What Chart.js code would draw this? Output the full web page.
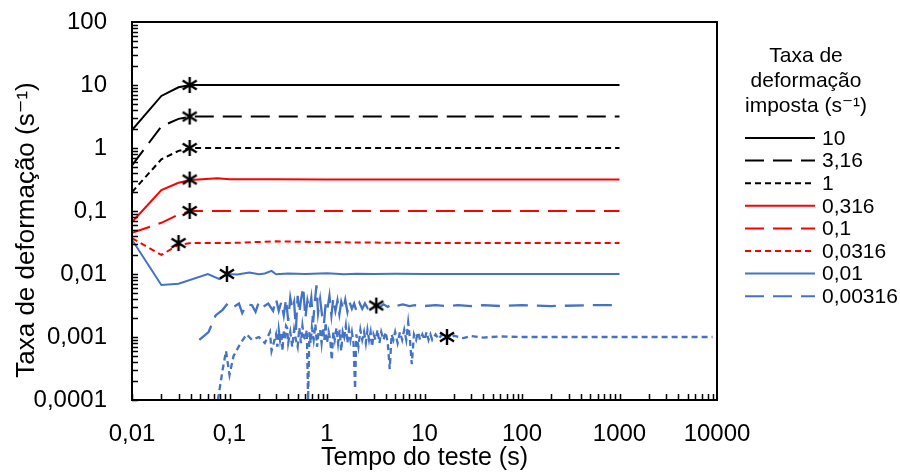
<!DOCTYPE html>
<html>
<head>
<meta charset="utf-8">
<script src="https://cdn.jsdelivr.net/npm/chart.js@4.4.1/dist/chart.umd.min.js"></script>
<style>
  html, body { margin: 0; padding: 0; background: #fff; }
  #wrap { width: 900px; height: 473px; }
</style>
</head>
<body>
<div id="wrap"><canvas id="chart" width="900" height="473"></canvas></div>
<script>
// axis ticks
const xTicks = [0.01, 0.1, 1, 10, 100, 1000, 10000];
const xTickLabels = ["0,01", "0,1", "1", "10", "100", "1000", "10000"];
const yTicks = [0.0001, 0.001, 0.01, 0.1, 1, 10, 100];
const yTickLabels = ["0,0001", "0,001", "0,01", "0,1", "1", "10", "100"];

// smooth curves (10 ... 0,0316) share one time base
const tSmooth = [0.01, 0.02, 0.03, 0.04, 0.075, 0.1, 0.3, 1, 10, 100, 1000];
const r10     = [1.93, 6.7, 9.2, 10, 10, 10, 10, 10, 10, 10, 10];
const r316    = [0.53, 2.2, 2.9, 3.16, 3.16, 3.16, 3.16, 3.16, 3.16, 3.16, 3.16];
const r1      = [0.2, 0.66, 0.9, 1.0, 1.0, 1.0, 1.0, 1.0, 1.0, 1.0, 1.0];
const r0316   = [0.067, 0.215, 0.28, 0.31, 0.33, 0.32, 0.318, 0.316, 0.316, 0.316, 0.316];
const r01     = [0.045, 0.065, 0.088, 0.1, 0.1, 0.1, 0.1, 0.1, 0.1, 0.1, 0.1];
const r00316  = [0.037, 0.0201, 0.029, 0.031, 0.031, 0.031, 0.033, 0.032, 0.031, 0.031, 0.031];

// 0,01  [time, rate]
const b001 = [
  [0.01, 0.035], [0.02, 0.0067], [0.03, 0.0070], [0.06, 0.0100], [0.079, 0.0083], [0.094, 0.0100],
  [0.12, 0.0098], [0.16, 0.0106], [0.2, 0.0099], [0.23, 0.0102], [0.27, 0.0112], [0.3, 0.0099],
  [0.4, 0.0102], [0.6, 0.0100], [1, 0.0103], [1.5, 0.0099], [2, 0.0101], [3, 0.0100], [5, 0.0101],
  [10, 0.0100], [30, 0.0100], [100, 0.0100], [1000, 0.0100]
];

// 0,00316  [time, rate]
const b000316 = [
  [0.049, 0.0009], [0.061, 0.0012], [0.072, 0.0022], [0.085, 0.0027], [0.097, 0.0035], [0.11, 0.0030],
  [0.125, 0.0034], [0.135, 0.0024], [0.15, 0.0033], [0.17, 0.0032], [0.185, 0.0025], [0.2, 0.0036],
  [0.22, 0.0030], [0.25, 0.0034], [0.28, 0.0026], [0.30, 0.0040], [0.32, 0.0026], [0.34, 0.0036],
  [0.36, 0.0022], [0.38, 0.0040], [0.40, 0.0018], [0.42, 0.0042], [0.44, 0.0028], [0.46, 0.0036],
  [0.48, 0.0013], [0.50, 0.0045], [0.52, 0.0024], [0.54, 0.0038], [0.57, 0.0062], [0.60, 0.0020],
  [0.63, 0.0038], [0.66, 0.0027], [0.69, 0.0042], [0.72, 0.0017], [0.75, 0.0036], [0.78, 0.0066],
  [0.81, 0.0024], [0.85, 0.0040], [0.89, 0.0022], [0.93, 0.0016], [0.97, 0.0035], [1.01, 0.0028],
  [1.06, 0.0045], [1.11, 0.0022], [1.16, 0.0041], [1.22, 0.0026], [1.28, 0.0038], [1.34, 0.0023],
  [1.4, 0.0036], [1.47, 0.0027], [1.54, 0.0039], [1.62, 0.0025], [1.7, 0.0036], [1.8, 0.0028],
  [1.9, 0.0034], [2.0, 0.0026], [2.15, 0.0035], [2.3, 0.0028], [2.45, 0.0034], [2.6, 0.0029],
  [2.8, 0.0034], [3.0, 0.0030], [3.2, 0.0032], [3.5, 0.0030], [3.8, 0.0033], [4.2, 0.0030],
  [4.6, 0.0033], [5, 0.0031], [6, 0.0033], [7, 0.0031], [8, 0.0032], [10, 0.0031], [13, 0.0032],
  [17, 0.0031], [22, 0.0032], [30, 0.0031], [40, 0.0032], [60, 0.0031], [100, 0.0032], [200, 0.0031],
  [500, 0.0032], [1000, 0.0032]
];

// 0,001  [time, rate]
const b0001 = [
  [0.076, 0.0001], [0.085, 0.0003], [0.092, 0.0006], [0.1, 0.00025], [0.11, 0.0005], [0.13, 0.0008],
  [0.15, 0.0011], [0.17, 0.0009], [0.2, 0.0010], [0.23, 0.0008], [0.26, 0.0012], [0.27, 0.0006],
  [0.30, 0.0011], [0.31, 0.0007], [0.32, 0.0013], [0.33, 0.0009], [0.34, 0.0012], [0.35, 0.0006],
  [0.36, 0.0013], [0.37, 0.0009], [0.38, 0.0015], [0.39, 0.0014], [0.40, 0.0008], [0.42, 0.0012],
  [0.44, 0.0007], [0.46, 0.0013], [0.48, 0.0009], [0.50, 0.0007], [0.52, 0.0014], [0.54, 0.0008],
  [0.56, 0.0015], [0.58, 0.0010], [0.60, 0.0009], [0.62, 0.0013], [0.64, 0.0001], [0.66, 0.0012],
  [0.68, 0.0008], [0.70, 0.0014], [0.73, 0.0009], [0.76, 0.0016], [0.79, 0.0007], [0.82, 0.0012],
  [0.85, 0.0013], [0.88, 0.0008], [0.91, 0.0014], [0.94, 0.0009], [0.97, 0.0017], [1.0, 0.0008],
  [1.04, 0.0012], [1.08, 0.0009], [1.12, 0.00043], [1.16, 0.0012], [1.2, 0.0009], [1.25, 0.0014],
  [1.3, 0.0008], [1.35, 0.0013], [1.4, 0.0006], [1.45, 0.0012], [1.5, 0.0010], [1.56, 0.0015],
  [1.62, 0.0008], [1.68, 0.0013], [1.74, 0.0009], [1.8, 0.0012], [1.87, 0.0008], [1.94, 0.00015],
  [2.0, 0.0011], [2.1, 0.0007], [2.2, 0.0013], [2.3, 0.0009], [2.4, 0.0012], [2.5, 0.0008],
  [2.6, 0.0013], [2.7, 0.0009], [2.8, 0.0012], [2.9, 0.0007], [3.0, 0.0011], [3.15, 0.0009],
  [3.3, 0.0013], [3.45, 0.0008], [3.6, 0.0012], [3.8, 0.0009], [4.0, 0.0012], [4.2, 0.0008],
  [4.4, 0.00031], [4.6, 0.0011], [4.8, 0.0009], [5.0, 0.0012], [5.3, 0.0008], [5.6, 0.0012],
  [5.9, 0.0009], [6.2, 0.0013], [6.5, 0.0009], [6.8, 0.0017], [7.1, 0.0009], [7.4, 0.00037],
  [7.8, 0.0011], [8.2, 0.0009], [8.6, 0.0012], [9.0, 0.0009], [9.5, 0.0011], [10, 0.0009],
  [10.5, 0.0012], [11, 0.0009], [11.5, 0.0011], [12, 0.0009], [13, 0.0011], [14, 0.00092],
  [15, 0.0011], [16, 0.00095], [17, 0.0010], [18, 0.00105], [19, 0.00095], [20, 0.00105],
  [25, 0.00096], [30, 0.00104], [40, 0.00098], [60, 0.00102], [100, 0.0010], [1000, 0.0010], [9000, 0.0010]
];

// asterisk marks
const markX = [0.039, 0.039, 0.039, 0.039, 0.039, 0.030, 0.094, 3.2, 17];
const markY = [10, 3.16, 1, 0.316, 0.1, 0.031, 0.01, 0.00316, 0.001];

const yTitle = "Taxa de deformação (s⁻¹)";
const legendTitle = ["Taxa de", "deformação", "imposta (s⁻¹)"];
const legendLabels = ["10", "3,16", "1", "0,316", "0,1", "0,0316", "0,01", "0,00316"];

const FONT = "'Liberation Sans', Arial, 'DejaVu Sans', sans-serif";
const BLUE = "#4472C4";
const LONG = [19, 9];
const SHORT = [6, 4];

const pts = (xs, ys) => xs.map((x, i) => ({ x, y: ys[i] }));
const pairs = (list) => list.map(([x, y]) => ({ x, y }));

function line(label, data, color, dash, width = 2) {
  return {
    label,
    data,
    showLine: true,
    borderColor: color,
    borderWidth: width,
    borderDash: dash,
    pointRadius: 0,
    tension: 0,
    fill: false,
  };
}

// six-armed asterisk as point style
function asterisk() {
  const c = document.createElement("canvas");
  c.width = 18; c.height = 18;
  const g = c.getContext("2d");
  g.strokeStyle = "#000";
  g.lineWidth = 2.4;
  g.beginPath();
  g.moveTo(9, 1); g.lineTo(9, 17);
  g.moveTo(2, 4.5); g.lineTo(16, 13.5);
  g.moveTo(2, 13.5); g.lineTo(16, 4.5);
  g.stroke();
  return c;
}

const series = [
  line(legendLabels[0], pts(tSmooth, r10), "#000", []),
  line(legendLabels[1], pts(tSmooth, r316), "#000", LONG),
  line(legendLabels[2], pts(tSmooth, r1), "#000", SHORT),
  line(legendLabels[3], pts(tSmooth, r0316), "#FF0000", []),
  line(legendLabels[4], pts(tSmooth, r01), "#FF0000", LONG),
  line(legendLabels[5], pts(tSmooth, r00316), "#FF0000", SHORT),
  line(legendLabels[6], pairs(b001), BLUE, []),
  line(legendLabels[7], pairs(b000316), BLUE, LONG, 2.3),
  line("0,001", pairs(b0001), BLUE, SHORT, 2.3),
];

const marks = {
  label: "marks",
  data: pts(markX, markY),
  showLine: false,
  pointStyle: asterisk(),
  pointRadius: 9,
};

// drop label overflow padding so the plot box sits where the original does
const noOverflow = (s) => { s.paddingTop = 0; s.paddingBottom = 0; s.paddingLeft = 0; s.paddingRight = 0; };

// box, inner log ticks, y title, legend
const decor = {
  id: "decor",
  afterDraw(chart) {
    const { ctx, chartArea: a, scales } = chart;
    ctx.save();
    ctx.strokeStyle = "#000";
    ctx.lineWidth = 1.5;
    ctx.beginPath();
    for (let e = -2; e <= 3; e++) {
      for (let m = 1; m <= 9; m++) {
        const px = Math.round(scales.x.getPixelForValue(m * Math.pow(10, e))) + 0.5;
        ctx.moveTo(px, a.bottom); ctx.lineTo(px, a.bottom - 6);
      }
    }
    for (let e = -4; e <= 1; e++) {
      for (let m = 1; m <= 9; m++) {
        const py = Math.round(scales.y.getPixelForValue(m * Math.pow(10, e))) + 0.5;
        ctx.moveTo(a.left, py); ctx.lineTo(a.left + 6, py);
      }
    }
    ctx.stroke();
    ctx.lineWidth = 2;
    ctx.strokeRect(a.left, a.top, a.right - a.left, a.bottom - a.top);

    // y axis title, sits a little below the plot middle like the original
    ctx.fillStyle = "#000";
    ctx.font = "26px " + FONT;
    ctx.textAlign = "center";
    ctx.textBaseline = "middle";
    ctx.save();
    ctx.translate(27, 230);
    ctx.rotate(-Math.PI / 2);
    ctx.fillText(yTitle, 0, 0);
    ctx.restore();

    // legend
    ctx.font = "21px " + FONT;
    legendTitle.forEach((t, i) => ctx.fillText(t, 806, 56 + i * 25));
    ctx.textAlign = "left";
    legendLabels.forEach((lab, i) => {
      const ds = chart.data.datasets[i + 1];
      const y = 138 + i * 22.6;
      ctx.strokeStyle = ds.borderColor;
      ctx.lineWidth = 2;
      ctx.setLineDash(ds.borderDash);
      ctx.beginPath();
      ctx.moveTo(745, y); ctx.lineTo(815, y);
      ctx.stroke();
      ctx.setLineDash([]);
      ctx.fillText(lab, 822, y + 1);
    });
    ctx.restore();
  },
};

new Chart(document.getElementById("chart"), {
  type: "scatter",
  data: { datasets: [marks, ...series] },
  options: {
    responsive: false,
    animation: false,
    layout: { padding: { top: 22, right: 183, left: 0, bottom: 0 } },
    plugins: { legend: { display: false }, tooltip: { enabled: false } },
    scales: {
      x: {
        type: "logarithmic",
        min: 0.01,
        max: 10000,
        afterBuildTicks: (s) => { s.ticks = xTicks.map((v) => ({ value: v })); },
        afterFit: (s) => { s.height = 73; noOverflow(s); },
        ticks: {
          autoSkip: false, maxRotation: 0, padding: 12, color: "#000",
          font: { family: FONT, size: 24 },
          callback: (v, i) => xTickLabels[i],
        },
        grid: { display: false },
        border: { display: false },
        title: {
          display: true, text: "Tempo do teste (s)", color: "#000",
          font: { family: FONT, size: 25 }, padding: { top: 0, bottom: 0 },
        },
      },
      y: {
        type: "logarithmic",
        min: 0.0001,
        max: 100,
        afterBuildTicks: (s) => { s.ticks = yTicks.map((v) => ({ value: v })); },
        afterFit: (s) => { s.width = 132; noOverflow(s); },
        ticks: {
          autoSkip: false, padding: 17, color: "#000",
          font: { family: FONT, size: 24 },
          callback: (v, i) => yTickLabels[i],
        },
        grid: { display: false },
        border: { display: false },
      },
    },
  },
  plugins: [decor],
});
</script>
</body>
</html>
